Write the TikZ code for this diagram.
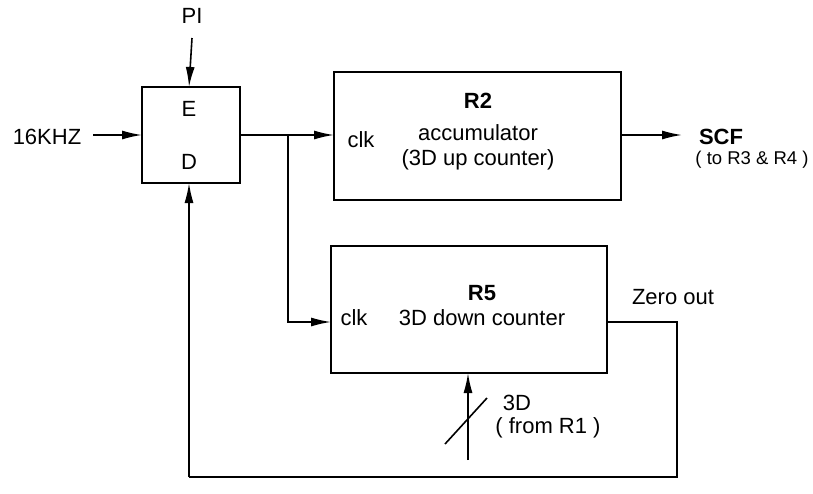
\documentclass[tikz,border=0pt]{standalone}
\usepackage{fontspec}
\setmainfont{Liberation Sans}
\usetikzlibrary{arrows.meta}
\begin{document}
\begin{tikzpicture}[x=1pt,y=-1pt,
  every node/.style={font=\fontsize{22}{26}\selectfont, inner sep=0pt},
  blk/.style={draw, line width=2.6pt},
  wire/.style={line width=1.6pt},
  arr/.style={wire, -{Latex[length=20pt,width=9pt]}},
  lbl/.style={anchor=center}]
\useasboundingbox (0,0) rectangle (813,493);
% boxes
\draw[blk] (142,87) rectangle (240,183);
\coordinate (edW) at (142,135);
\coordinate (edE) at (240,135);
\coordinate (edN) at (189,87);
\coordinate (edS) at (189,183);
\node (E) at (189,109) {E};
\node (D) at (189,162) {D};
\draw[blk] (334,72) rectangle (621,200);
\coordinate (r2W) at (334,135);
\coordinate (r2E) at (621,135);
\draw[blk] (331,246) rectangle (607,373);
\coordinate (r5W) at (331,322);
\coordinate (r5E) at (607,322);
\coordinate (r5S) at (468,373);
% texts
\node (R2) at (478,101) {\bfseries R2};
\node (acc) at (478,133) {accumulator};
\node (up) at (478,160) {(3D up counter)};
\node (clk1) at (361,140) {clk};
\node (R5) at (482,293) {\bfseries R5};
\node (dn) at (482,318) {3D down counter};
\node (clk2) at (354,318) {clk};
\node (PI) at (192,16) {PI};
\node (khz) at (47,137) {16KHZ};
\node (SCF) at (721,137) {\bfseries SCF};
\node[font=\fontsize{18.5}{22}\selectfont] (to) at (752,160) {( to R3 \& R4 )};
\node (zero) at (673,297) {Zero out};
\node (d3) at (517,403) {3D};
\node (from) at (548,428) {( from R1 )};
% connectors
\coordinate (piS) at (192,38);
\draw[arr] (piS) -- (edN);
\coordinate (khzE) at (93,135);
\draw[arr] (khzE) -- (edW);
\coordinate (j) at (288,135);
\draw[wire] (edE) -- (j);
\draw[arr] (j) -- (r2W);
\draw[arr] (j) |- (r5W);
\coordinate (scfW) at (682,135);
\draw[arr] (r2E) -- (scfW);
\coordinate (fb1) at (677,322);
\coordinate (fb2) at (677,477);
\coordinate (fb3) at (189,477);
\draw[wire] (r5E) -- (fb1) -- (fb2) -- (fb3);
\draw[arr] (fb3) -- (edS);
\coordinate (in3) at (468,460);
\draw[arr] (in3) -- (r5S);
\coordinate (sl1) at (445,444);
\coordinate (sl2) at (487,398);
\draw[wire] (sl1) -- (sl2);
\end{tikzpicture}
\end{document}
